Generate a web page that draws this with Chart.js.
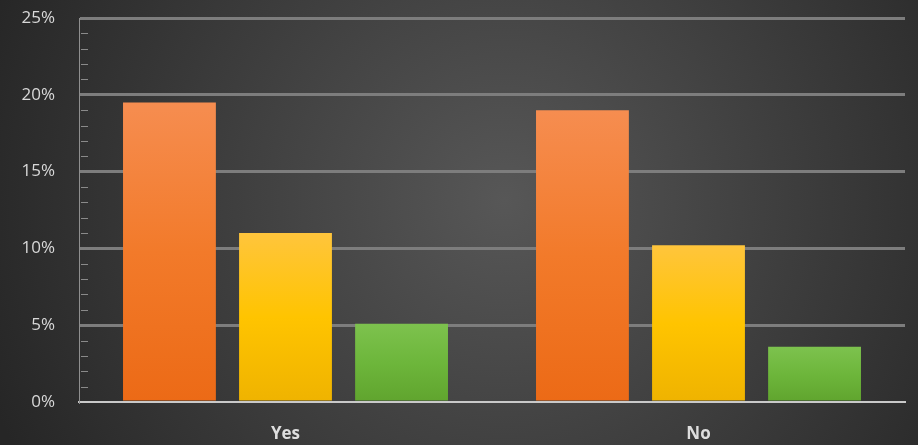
<!DOCTYPE html>
<html>
<head>
<meta charset="utf-8">
<script src="https://cdn.jsdelivr.net/npm/chart.js@4/dist/chart.umd.min.js"></script>
<style>
  html, body { margin: 0; padding: 0; background: #2b2b2b; }
  #wrap { width: 918px; height: 445px; position: relative; }
</style>
</head>
<body>
<div id="wrap"><canvas id="bars"></canvas></div>
<script>
let categories = ['Yes', 'No'];
let seriesA = [19.5, 19.0];
let seriesB = [11.0, 10.2];
let seriesC = [5.1, 3.6];
let yTicks = [0, 5, 10, 15, 20, 25];

// top -> bottom colour stops for each bar series
let colorsA = ['#f68d50', '#f27a2a', '#ec6a16'];
let colorsB = ['#ffc53c', '#ffc400', '#efb300'];
let colorsC = ['#7dc24e', '#6db63b', '#60a42e'];

// gradient runs over each bar's own height
function barGradient(stops) {
    return function (context) {
        const chart = context.chart;
        const area = chart.chartArea;
        if (!area || context.raw === undefined) return stops[1];
        const top = chart.scales.y.getPixelForValue(context.raw);
        const g = chart.ctx.createLinearGradient(0, top, 0, area.bottom);
        g.addColorStop(0, stops[0]);
        g.addColorStop(0.5, stops[1]);
        g.addColorStop(1, stops[2]);
        return g;
    };
}

const backgroundPlugin = {
    id: 'darkBackground',
    beforeDraw(chart) {
        const ctx = chart.ctx;
        const w = chart.width, h = chart.height;
        ctx.save();
        const g = ctx.createRadialGradient(w * 0.55, h * 0.45, 0, w * 0.55, h * 0.45, w * 0.6);
        g.addColorStop(0, '#575757');
        g.addColorStop(1, '#262626');
        ctx.fillStyle = g;
        ctx.fillRect(0, 0, w, h);
        ctx.restore();
    }
};

// small minor tick marks just right of the y axis line
const minorTicksPlugin = {
    id: 'minorTicks',
    afterDatasetsDraw(chart) {
        const ctx = chart.ctx;
        const y = chart.scales.y;
        const left = chart.chartArea.left;
        ctx.save();
        ctx.strokeStyle = '#8a8a8a';
        ctx.lineWidth = 1;
        for (let v = 0; v < 25; v++) {
            if (v % 5 === 0) continue;
            const py = Math.round(y.getPixelForValue(v)) + 0.5;
            ctx.beginPath();
            ctx.moveTo(left + 2, py);
            ctx.lineTo(left + 9, py);
            ctx.stroke();
        }
        ctx.restore();
    }
};

function drawChart() {
    const ctx = document.getElementById('bars').getContext('2d');
    const data = {
        labels: categories,
        datasets: [{
            data: seriesA,
            backgroundColor: barGradient(colorsA),
        }, {
            data: seriesB,
            backgroundColor: barGradient(colorsB),
        }, {
            data: seriesC,
            backgroundColor: barGradient(colorsC),
        }]
    };
    new Chart(ctx, {
        type: 'bar',
        data: data,
        plugins: [backgroundPlugin, minorTicksPlugin],
        options: {
            responsive: true,
            maintainAspectRatio: false,
            animation: false,
            categoryPercentage: 0.843,
            barPercentage: 0.8,
            layout: { padding: { top: 18, right: 13, left: 0, bottom: 0 } },
            plugins: {
                legend: { display: false },
                tooltip: { enabled: false },
            },
            scales: {
                x: {
                    grid: { display: false, drawTicks: false },
                    border: { display: true, color: '#c9c9c9', width: 2 },
                    ticks: {
                        color: '#dedede',
                        padding: 22,
                        font: { family: 'Open Sans', size: 17, weight: 'bold' },
                    },
                    afterFit(scale) { scale.height = 43; },
                },
                y: {
                    min: 0,
                    max: 25,
                    afterBuildTicks(scale) {
                        scale.ticks = yTicks.map(v => ({ value: v }));
                    },
                    grid: {
                        drawTicks: false,
                        color: ctx => ctx.tick && ctx.tick.value === 0 ? 'rgba(0,0,0,0)' : '#7d7d7d',
                        lineWidth: 3,
                    },
                    border: { display: true, color: '#8f8f8f', width: 1 },
                    ticks: {
                        color: '#d8d8d8',
                        padding: 24,
                        font: { family: 'Open Sans', size: 17 },
                        callback: v => v + '%',
                    },
                    afterFit(scale) {
                        scale.width = 79;
                        scale.paddingTop = 0;
                        scale.paddingBottom = 0;
                    },
                },
            },
        },
    });
}

drawChart();
</script>
</body>
</html>
